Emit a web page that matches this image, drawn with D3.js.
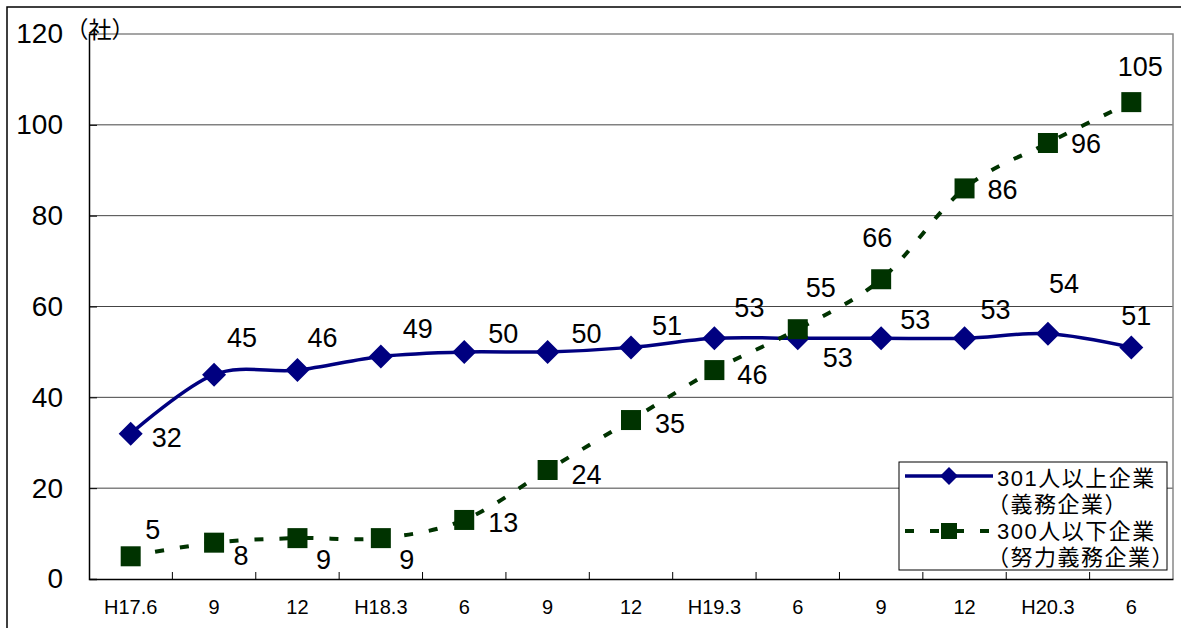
<!DOCTYPE html>
<html>
<head>
<meta charset="utf-8">
<script src="https://cdn.jsdelivr.net/npm/d3@7"></script>
<style>
  body { margin: 0; background: #fff; }
  text { font-family: "Liberation Sans", Arial, sans-serif; }
  .cjk { font-family: "Liberation Sans", "Noto Sans CJK JP", sans-serif; }
</style>
</head>
<body>
<script>
// data
const categories = ["H17.6", "9", "12", "H18.3", "6", "9", "12", "H19.3", "6", "9", "12", "H20.3", "6"];
const large = [32, 45, 46, 49, 50, 50, 51, 53, 53, 53, 53, 54, 51];      // 301人以上企業
const small = [5, 8, 9, 9, 13, 24, 35, 46, 55, 66, 86, 96, 105];         // 300人以下企業
const yTicks = [0, 20, 40, 60, 80, 100, 120];

// label placement (pixels from the point)
const largeLabelOffsets = [[36, 4], [28, -37], [25, -32], [37, -27], [39, -18], [39, -18], [36, -21],
                           [35, -30], [40, 20], [34, -18], [31, -28], [16, -50], [5, -31]];
const smallLabelOffsets = [[22, -26], [27, 13], [26, 22], [26, 22], [39, 3], [39, 5], [39, 4],
                           [38, 5], [23, -41], [-4, -41], [38, 2], [38, 1], [9, -35]];

const W = 1181, H = 628;
const plot = {left: 89, right: 1173, top: 34, bottom: 579};
const navy = "#000080", green = "#003300";

const svg = d3.select("body").append("svg")
    .attr("width", W)
    .attr("height", H);

// outer frame (only top and left visible)
svg.append("path")
    .attr("d", `M7,${H} V7 H${W}`)
    .attr("fill", "none")
    .attr("stroke", "#000")
    .attr("stroke-width", 1.5);

// scales
const x = d3.scaleBand()
    .domain(d3.range(categories.length))
    .range([plot.left, plot.right]);
const y = d3.scaleLinear()
    .domain([0, 120])
    .range([plot.bottom, plot.top]);
const cx = i => x(i) + x.bandwidth() / 2;

// gridlines
svg.append("g")
    .selectAll("line")
    .data(yTicks.filter(d => d > 0 && d < 120))
    .enter().append("line")
    .attr("x1", plot.left).attr("x2", plot.right)
    .attr("y1", d => y(d)).attr("y2", d => y(d))
    .attr("stroke", "#444")
    .attr("stroke-width", 1);

// plot area border top / right
svg.append("path")
    .attr("d", `M${plot.left},${plot.top} H${plot.right} V${plot.bottom}`)
    .attr("fill", "none")
    .attr("stroke", "#888")
    .attr("stroke-width", 1.5);

// y axis
const yAxis = d3.axisLeft(y).tickValues(yTicks).tickSize(-8).tickPadding(26);
const gy = svg.append("g")
    .attr("transform", `translate(${plot.left},0)`)
    .call(yAxis);
gy.select(".domain").attr("stroke", "#000").attr("stroke-width", 1.5);
gy.selectAll(".tick line").attr("stroke", "#000");
gy.selectAll(".tick text")
    .attr("font-size", 28)
    .attr("font-family", "Liberation Sans, Arial, sans-serif")
    .attr("fill", "#000");

// x axis with ticks between categories
const xAxis = d3.axisBottom(x).tickSize(0).tickPadding(21).tickFormat(i => categories[i]);
const gx = svg.append("g")
    .attr("transform", `translate(0,${plot.bottom})`)
    .call(xAxis);
gx.select(".domain").attr("stroke", "#000").attr("stroke-width", 1.5);
gx.selectAll(".tick text")
    .attr("font-size", 20)
    .attr("font-family", "Liberation Sans, Arial, sans-serif")
    .attr("fill", "#000");
svg.append("g")
    .selectAll("line")
    .data(d3.range(1, categories.length))
    .enter().append("line")
    .attr("x1", d => x(d)).attr("x2", d => x(d))
    .attr("y1", plot.bottom).attr("y2", plot.bottom - 7)
    .attr("stroke", "#000");

// unit label
svg.append("text")
    .attr("class", "cjk")
    .attr("x", 100).attr("y", 38)
    .attr("text-anchor", "middle")
    .attr("font-size", 23)
    .text("（社）");

const line = d3.line()
    .x((d, i) => cx(i))
    .y(d => y(d))
    .curve(d3.curveCatmullRom.alpha(0));

// 301人以上企業
svg.append("path")
    .datum(large)
    .attr("d", line)
    .attr("fill", "none")
    .attr("stroke", navy)
    .attr("stroke-width", 3.5);
svg.append("g")
    .selectAll("path")
    .data(large)
    .enter().append("path")
    .attr("d", "M0,-12 L12,0 L0,12 L-12,0 Z")
    .attr("transform", (d, i) => `translate(${cx(i)},${y(d)})`)
    .attr("fill", navy);

// 300人以下企業
svg.append("path")
    .datum(small)
    .attr("d", line)
    .attr("fill", "none")
    .attr("stroke", green)
    .attr("stroke-width", 4)
    .attr("stroke-dasharray", "9,16");
svg.append("g")
    .selectAll("rect")
    .data(small)
    .enter().append("rect")
    .attr("x", (d, i) => cx(i) - 10)
    .attr("y", d => y(d) - 10)
    .attr("width", 20)
    .attr("height", 20)
    .attr("fill", green);

// data labels
function labels(values, offsets) {
    svg.append("g")
        .selectAll("text")
        .data(values)
        .enter().append("text")
        .attr("x", (d, i) => cx(i) + offsets[i][0])
        .attr("y", (d, i) => y(d) + offsets[i][1])
        .attr("text-anchor", "middle")
        .attr("dominant-baseline", "central")
        .attr("font-size", 27)
        .text(d => d);
}
labels(large, largeLabelOffsets);
labels(small, smallLabelOffsets);

// legend
const lg = svg.append("g").attr("transform", "translate(899,462)");
lg.append("rect")
    .attr("width", 268).attr("height", 108)
    .attr("fill", "#fff")
    .attr("stroke", "#000")
    .attr("stroke-width", 1);
lg.append("line")
    .attr("x1", 6).attr("x2", 94).attr("y1", 14).attr("y2", 14)
    .attr("stroke", navy).attr("stroke-width", 3.5);
lg.append("path")
    .attr("d", "M0,-9 L9,0 L0,9 L-9,0 Z")
    .attr("transform", "translate(50,14)")
    .attr("fill", navy);
lg.append("line")
    .attr("x1", 6).attr("x2", 94).attr("y1", 69).attr("y2", 69)
    .attr("stroke", green).attr("stroke-width", 4)
    .attr("stroke-dasharray", "9,16");
lg.append("rect")
    .attr("x", 42).attr("y", 61).attr("width", 16).attr("height", 16)
    .attr("fill", green);
const legendLines = ["301人以上企業", "（義務企業）", "300人以下企業", "（努力義務企業）"];
lg.selectAll("text.leg")
    .data(legendLines)
    .enter().append("text")
    .attr("class", "cjk leg")
    .attr("x", (d, i) => i % 2 ? 88 : 98)
    .attr("y", (d, i) => 16 + i * 26.5)
    .attr("dominant-baseline", "central")
    .attr("font-size", 22)
    .attr("letter-spacing", 1.5)
    .text(d => d);
</script>
</body>
</html>
